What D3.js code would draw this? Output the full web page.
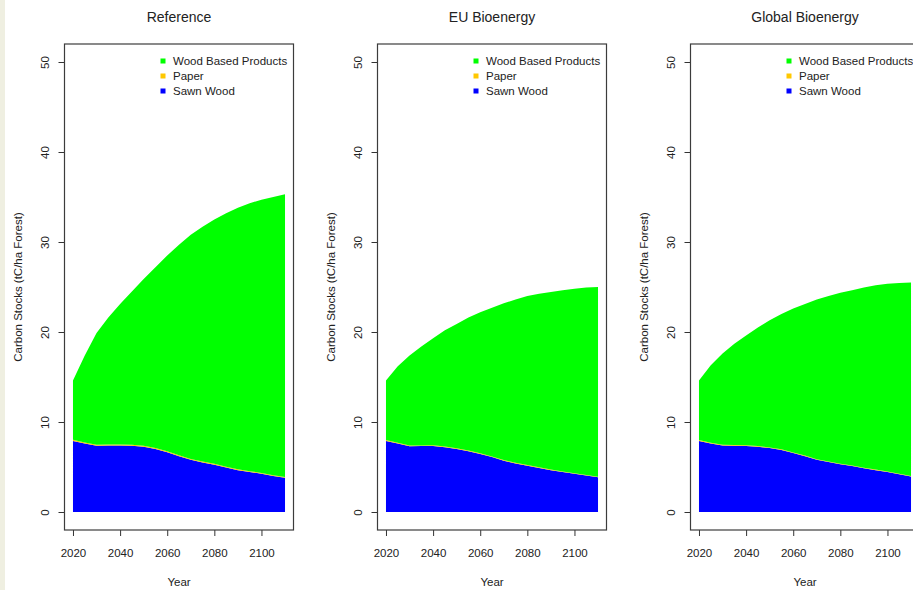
<!DOCTYPE html>
<html>
<head>
<meta charset="utf-8">
<script src="https://cdn.jsdelivr.net/npm/d3@7"></script>
<style>
  html, body { margin: 0; padding: 0; background: #ffffff; }
  svg { display: block; }
  text { font-family: "Liberation Sans", Arial, Helvetica, sans-serif; fill: #222; }
</style>
</head>
<body>
<svg id="chart" width="913" height="590"></svg>
<script>
// Harvested wood product carbon stocks per scenario, 2020-2110
const years = [2020, 2025, 2030, 2035, 2040, 2045, 2050, 2055, 2060, 2065, 2070, 2075, 2080, 2085, 2090, 2095, 2100, 2105, 2110];

const scenarios = ["Reference", "EU Bioenergy", "Global Bioenergy"];
const seriesNames = ["Wood Based Products", "Paper", "Sawn Wood"];
const seriesColors = ["#00ff00", "#ffc800", "#0000ff"];

// Reference
const refSawn  = [7.9, 7.6, 7.35, 7.38, 7.4, 7.35, 7.25, 7.0, 6.65, 6.2, 5.8, 5.5, 5.25, 4.95, 4.65, 4.45, 4.25, 4.0, 3.8];
const refPaper = [0.12, 0.12, 0.12, 0.11, 0.11, 0.11, 0.11, 0.10, 0.10, 0.10, 0.10, 0.10, 0.10, 0.09, 0.09, 0.09, 0.09, 0.09, 0.09];
const refWood  = [6.58, 9.68, 12.43, 14.11, 15.59, 17.04, 18.54, 20.10, 21.75, 23.40, 24.90, 26.10, 27.15, 28.16, 29.06, 29.76, 30.36, 30.91, 31.41];

// EU Bioenergy
const euSawn  = [7.9, 7.6, 7.3, 7.32, 7.34, 7.2, 7.0, 6.75, 6.45, 6.1, 5.7, 5.4, 5.15, 4.9, 4.65, 4.45, 4.25, 4.05, 3.85];
const euPaper = [0.09, 0.09, 0.09, 0.08, 0.08, 0.08, 0.08, 0.08, 0.07, 0.07, 0.07, 0.07, 0.07, 0.07, 0.06, 0.06, 0.06, 0.06, 0.06];
const euWood  = [6.61, 8.51, 10.01, 11.00, 11.88, 12.92, 13.82, 14.77, 15.68, 16.53, 17.43, 18.13, 18.78, 19.28, 19.74, 20.14, 20.49, 20.84, 21.09];

// Global Bioenergy
const glSawn  = [7.9, 7.6, 7.38, 7.36, 7.34, 7.25, 7.1, 6.9, 6.55, 6.2, 5.8, 5.55, 5.3, 5.1, 4.85, 4.65, 4.45, 4.2, 3.95];
const glPaper = [0.09, 0.09, 0.09, 0.08, 0.08, 0.08, 0.08, 0.08, 0.07, 0.07, 0.07, 0.07, 0.07, 0.07, 0.06, 0.06, 0.06, 0.06, 0.06];
const glWood  = [6.61, 8.61, 10.13, 11.26, 12.18, 13.17, 14.12, 15.02, 15.98, 16.83, 17.73, 18.38, 18.98, 19.48, 20.04, 20.49, 20.84, 21.19, 21.49];

const yTicks = [0, 10, 20, 30, 40, 50];
const xTicks = [2020, 2040, 2060, 2080, 2100];

const panelSeries = [
  { sawn: refSawn, paper: refPaper, wood: refWood },
  { sawn: euSawn,  paper: euPaper,  wood: euWood },
  { sawn: glSawn,  paper: glPaper,  wood: glWood }
];

const svg = d3.select("#chart");

// light strip on the left edge of the page
svg.append("rect").attr("x", 0).attr("y", 0).attr("width", 5).attr("height", 590).attr("fill", "#efefe1");

const panelStep = 313;
const box = { left: 64.5, right: 293.5, top: 44, bottom: 530 };
const fontSize = "11.5px";

scenarios.forEach((name, i) => {
  const dx = i * panelStep;
  const g = svg.append("g").attr("transform", `translate(${dx},0)`);

  const x = d3.scaleLinear().domain([2016.4, 2113.6]).range([box.left, box.right]);
  const y = d3.scaleLinear().domain([-2, 52]).range([box.bottom, box.top]);

  // stacked layers: sawn wood at the bottom, then paper, then wood based products
  const s = panelSeries[i];
  const rows = years.map((yr, k) => ({ year: yr, "Sawn Wood": s.sawn[k], "Paper": s.paper[k], "Wood Based Products": s.wood[k] }));
  const stack = d3.stack().keys(["Sawn Wood", "Paper", "Wood Based Products"])(rows);
  const area = d3.area()
    .x(d => x(d.data.year))
    .y0(d => y(d[0]))
    .y1(d => y(d[1]));

  g.selectAll("path.layer").data(stack).enter().append("path")
    .attr("class", "layer")
    .attr("d", area)
    .attr("fill", d => seriesColors[seriesNames.indexOf(d.key)]);

  // axes
  const yAxis = g.append("g").attr("transform", `translate(${box.left},0)`)
    .call(d3.axisLeft(y).tickValues(yTicks).tickSize(6).tickFormat(d3.format("d")));
  yAxis.select(".domain").remove();
  yAxis.selectAll(".tick line").attr("stroke", "#333");
  yAxis.selectAll(".tick text")
    .attr("x", null).attr("dy", null)
    .attr("transform", "translate(-16,0) rotate(-90)")
    .attr("text-anchor", "middle")
    .style("font-size", fontSize).style("font-family", null).attr("fill", "#222");

  const xAxis = g.append("g").attr("transform", `translate(0,${box.bottom})`)
    .call(d3.axisBottom(x).tickValues(xTicks).tickSize(6).tickFormat(d3.format("d")));
  xAxis.select(".domain").remove();
  xAxis.selectAll(".tick line").attr("stroke", "#333");
  xAxis.selectAll(".tick text")
    .attr("y", 27).attr("dy", null)
    .style("font-size", fontSize).style("font-family", null).attr("fill", "#222");
  xAxis.attr("font-family", null);
  yAxis.attr("font-family", null);

  // plot frame
  g.append("rect")
    .attr("x", box.left).attr("y", box.top)
    .attr("width", box.right - box.left).attr("height", box.bottom - box.top)
    .attr("fill", "none").attr("stroke", "#3c3c3c").attr("stroke-width", 1.2);

  // titles and axis labels
  const cx = (box.left + box.right) / 2;
  g.append("text").attr("x", cx).attr("y", 22).attr("text-anchor", "middle")
    .style("font-size", "14px").text(name);
  g.append("text").attr("x", cx).attr("y", 586).attr("text-anchor", "middle")
    .style("font-size", fontSize).text("Year");
  g.append("text").attr("transform", `translate(22,${(box.top + box.bottom) / 2}) rotate(-90)`)
    .attr("text-anchor", "middle").style("font-size", fontSize)
    .text("Carbon Stocks (tC/ha Forest)");

  // legend
  const lg = g.append("g").attr("transform", "translate(163,61)");
  seriesNames.forEach((n, k) => {
    lg.append("rect").attr("x", -2.5).attr("y", k * 15 - 2.5).attr("width", 5).attr("height", 5)
      .attr("fill", seriesColors[k]);
    lg.append("text").attr("x", 10).attr("y", k * 15 + 4)
      .style("font-size", fontSize).text(n);
  });
});
</script>
</body>
</html>
